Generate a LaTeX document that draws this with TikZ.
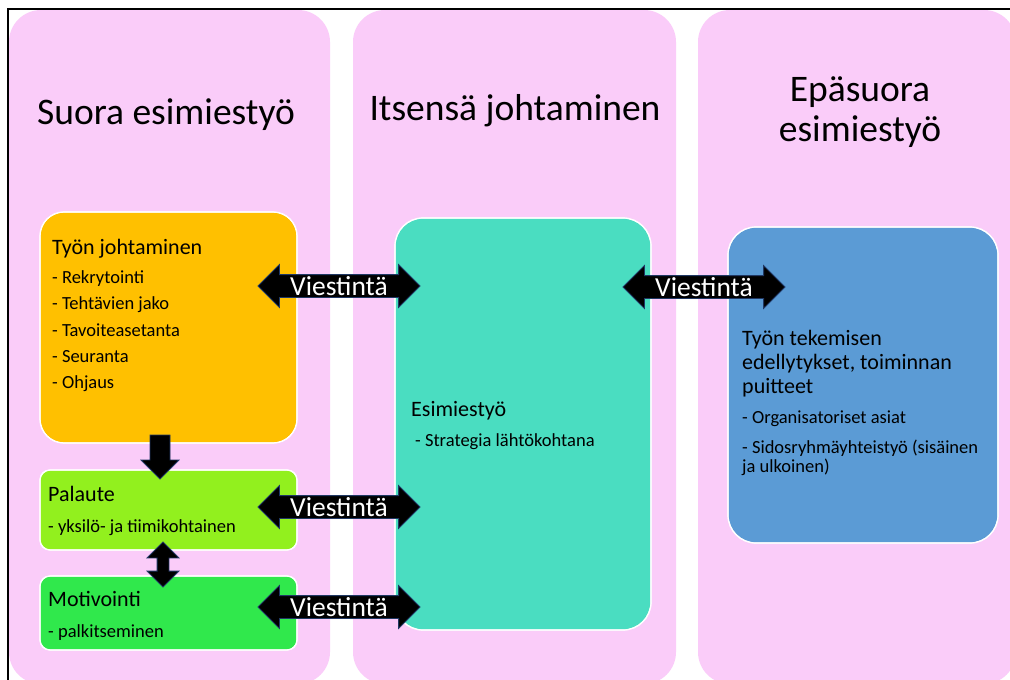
\documentclass[tikz,border=0pt]{standalone}
\usepackage{fontspec}
\setmainfont{Carlito}
\usetikzlibrary{shapes.arrows}
\definecolor{pinkbg}{HTML}{FACCF9}
\definecolor{orangebox}{HTML}{FFC000}
\definecolor{limebox}{HTML}{92F01E}
\definecolor{greenbox}{HTML}{30E84C}
\definecolor{tealbox}{HTML}{4ADDC1}
\definecolor{bluebox}{HTML}{5B9BD5}
\definecolor{arrowedge}{HTML}{203864}
\newcommand\ttlfont{\fontsize{37.5}{41}\selectfont}
\newcommand\hdfont{\fontsize{22}{24.5}\selectfont}
\newcommand\itfont{\fontsize{18.5}{20}\selectfont}
\begin{document}
\begin{tikzpicture}[x=1pt,y=-1pt,
  column/.style={fill=pinkbg, rounded corners=32pt},
  inbox/.style={draw=white, line width=1.2pt},
  ttl/.style={inner sep=0, anchor=base, font=\ttlfont},
  hd/.style={inner sep=0, anchor=base west, font=\hdfont},
  itm/.style={inner sep=0, anchor=base west, font=\itfont},
  viest/.style={double arrow, double arrow head extend=10pt, fill=black,
    draw=arrowedge, line width=0.8pt, text=white, font=\fontsize{27.5}{30}\selectfont,
    inner xsep=0pt, inner ysep=0pt, text height=20pt, text depth=2pt, minimum height=162pt},
  blockarrow/.style={fill=black, draw=arrowedge, line width=0.8pt}
]
\useasboundingbox (0,0) rectangle (1010,680);
\fill[white] (0,0) rectangle (1010,680);
\begin{scope}
\clip (0,0) rectangle (1010,680);
\fill[column] (9,10) rectangle (330,684);
\fill[column] (353,10) rectangle (676,684);
\fill[column] (698,10) rectangle (1016,684);
\end{scope}
\draw[line width=1.5pt] (8,680) -- (8,9) -- (1010,9);

% titles
\node[ttl] (t1) at (166,124) {Suora esimiestyö};
\node[ttl] (t2) at (515,120) {Itsensä johtaminen};
\node[ttl] (t3a) at (860,101) {Epäsuora};
\node[ttl] (t3b) at (860,141) {esimiestyö};

% boxes
\fill[inbox, fill=orangebox, rounded corners=24pt] (40,212) rectangle (297,443);
\fill[inbox, fill=limebox, rounded corners=10pt] (40,470) rectangle (297,550);
\fill[inbox, fill=greenbox, rounded corners=10pt] (40,576) rectangle (297,650);
\fill[inbox, fill=tealbox, rounded corners=28pt] (395,218) rectangle (651,630);
\fill[inbox, fill=bluebox, rounded corners=28pt] (728,227) rectangle (998,543);
\draw[white, line width=1.2pt, rounded corners=24pt] (40,212) rectangle (297,443);
\draw[white, line width=1.2pt, rounded corners=10pt] (40,470) rectangle (297,550);
\draw[white, line width=1.2pt, rounded corners=10pt] (40,576) rectangle (297,650);
\draw[white, line width=1.2pt, rounded corners=28pt] (395,218) rectangle (651,630);
\draw[white, line width=1.2pt, rounded corners=28pt] (728,227) rectangle (998,543);

% orange box text
\node[hd] (o0) at (52,254) {Työn johtaminen};
\node[itm] (o1) at (52,283) {- Rekrytointi};
\node[itm] (o2) at (52,309) {- Tehtävien jako};
\node[itm] (o3) at (52,336) {- Tavoiteasetanta};
\node[itm] (o4) at (52,362) {- Seuranta};
\node[itm] (o5) at (52,388) {- Ohjaus};

% palaute / motivointi
\node[hd] (p0) at (48,501) {Palaute};
\node[itm] (p1) at (48,532) {- yksilö- ja tiimikohtainen};
\node[hd] (m0) at (48,606) {Motivointi};
\node[itm] (m1) at (48,637) {- palkitseminen};

% teal box text
\node[hd] (e0) at (411,416) {Esimiestyö};
\node[itm] (e1) at (415,446) {- Strategia lähtökohtana};

% blue box text
\node[hd] (b0) at (742,345) {Työn tekemisen};
\node[hd] (b1) at (742,369) {edellytykset, toiminnan};
\node[hd] (b2) at (742,393) {puitteet};
\node[itm] (b3) at (742,423) {- Organisatoriset asiat};
\node[itm] (b4) at (742,453) {- Sidosryhmäyhteistyö (sisäinen};
\node[itm] (b5) at (742,472) {ja ulkoinen)};

% arrows
\node[viest] (v1) at (339,286) {Viestintä};
\node[viest] (v2) at (339,507) {Viestintä};
\node[viest] (v3) at (339,607) {Viestintä};
\node[viest] (v4) at (704,287) {Viestintä};
\draw[blockarrow] (150,435) -- (170,435) -- (170,460) -- (179,460) -- (160,479) -- (141,460) -- (150,460) -- cycle;
\node[double arrow, double arrow head extend=10pt, blockarrow, inner sep=5.5pt,
  minimum height=45pt, rotate=90] (va) at (163,564.5) {};
\end{tikzpicture}
\end{document}
